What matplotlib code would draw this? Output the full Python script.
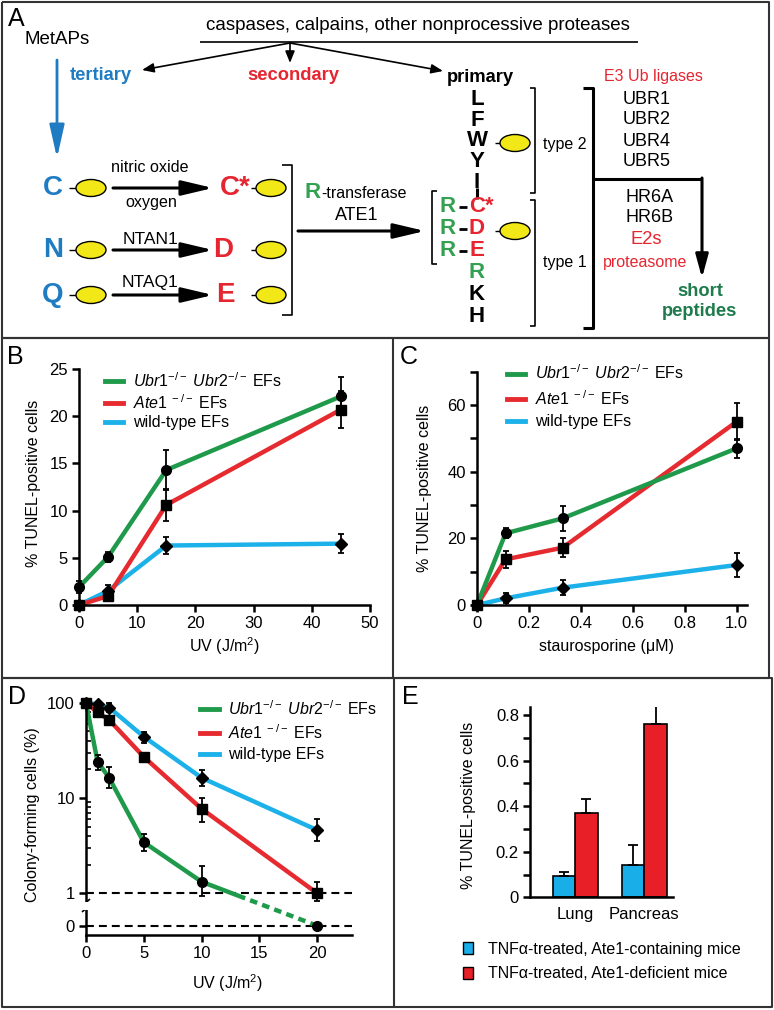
import numpy as np
import matplotlib
matplotlib.use('Agg')
import matplotlib.pyplot as plt
from matplotlib.lines import Line2D
from matplotlib.patches import Ellipse, Rectangle, Patch
from matplotlib.ticker import NullFormatter

plt.rcParams['font.family'] = ['Liberation Sans', 'DejaVu Sans']
plt.rcParams['mathtext.fontset'] = 'custom'
plt.rcParams['mathtext.rm'] = 'Liberation Sans'
plt.rcParams['mathtext.it'] = 'Liberation Sans:italic'
plt.rcParams['mathtext.bf'] = 'Liberation Sans:bold'

W, H = 774, 1010

GREEN = '#1f9a4b'
RED = '#e62b30'
BLUE = '#1db1ea'
BAR_BLUE = '#1aaee8'
BAR_RED = '#e91f27'
A_BLUE = '#1f7cc2'
A_RED = '#e52530'
A_GREEN = '#33a052'
DK_GREEN = '#1e7b4c'
YELLOW = '#f3e817'

lab_ubr = r'$\mathit{Ubr1}^{-/-}$ $\mathit{Ubr2}^{-/-}$ EFs'
lab_ate = r'$\mathit{Ate1}^{\ -/-}$ EFs'
lab_wt = 'wild-type EFs'

# panel B: UV dose vs TUNEL
uv_b = [0, 5, 15, 45]
ubr_b = [1.9, 5.1, 14.3, 22.1]
ubr_b_err = [0.6, 0.5, 2.1, 2.0]
ate_b = [0, 0.95, 10.6, 20.7]
ate_b_err = [0.15, 0.3, 1.7, 2.0]
wt_b = [0, 1.5, 6.3, 6.5]
wt_b_err = [0.1, 0.6, 0.9, 1.0]

# panel C: staurosporine vs TUNEL
sts_c = [0, 0.11, 0.33, 1.0]
ubr_c = [0, 21.5, 26, 47]
ubr_c_err = [0.5, 1.5, 3.7, 2.8]
ate_c = [0, 13.7, 17.2, 55]
ate_c_err = [0.5, 2.5, 2.8, 5.5]
wt_c = [0, 2, 5.2, 12]
wt_c_err = [0.3, 1.5, 2.2, 3.5]

# panel D: colony forming
uv_d = [0, 1, 2, 5, 10, 20]
ubr_d = [100, 24, 16.3, 3.43, 1.32, 0]
ubr_d_lo = [0, 4.5, 3.6, 0.63, 0.4, 0]
ubr_d_hi = [0, 4, 4.7, 0.77, 0.63, 0]
ate_d = [100, 79, 66, 27, 7.7, 1.0]
ate_d_lo = [0, 0, 0, 3, 2.1, 0.23]
ate_d_hi = [0, 0, 0, 3, 2.2, 0.32]
wt_d = [100, 96, 89, 44, 16.3, 4.6]
wt_d_lo = [0, 0, 10, 6, 2.8, 1.1]
wt_d_hi = [0, 0, 11, 5, 3.4, 1.4]

# panel E: bars
tissues = ['Lung', 'Pancreas']
e_wt = [0.092, 0.142]
e_wt_err = [0.02, 0.088]
e_ko = [0.369, 0.759]
e_ko_err = [0.062, 0.095]

fig = plt.figure(figsize=(W / 100, H / 100), dpi=100)


def axes_px(x0, x1, ytop, ybot):
    return fig.add_axes([x0 / W, 1 - ybot / H, (x1 - x0) / W, (ybot - ytop) / H])


def style(ax):
    for s in ['top', 'right']:
        ax.spines[s].set_visible(False)
    for s in ['left', 'bottom']:
        ax.spines[s].set_linewidth(1.8)
    ax.tick_params(direction='out', length=5, width=1.8, labelsize=12, pad=3)
    ax.patch.set_alpha(0)


def series(ax, x, y, err, color, marker, ms):
    ax.plot(x, y, color=color, lw=3.2, clip_on=False, zorder=2)
    eb = ax.errorbar(x, y, yerr=err, fmt=marker, color='k', ms=ms, capsize=2.2,
                     elinewidth=1.3, capthick=1.3, zorder=3)
    for art in eb.get_children():
        art.set_clip_on(False)


def leg(ax, x, y, spacing):
    hs = [Line2D([], [], color=c, lw=3.5) for c in (GREEN, RED, BLUE)]
    ax.legend(hs, [lab_ubr, lab_ate, lab_wt], loc='upper left', bbox_to_anchor=(x, y),
              frameon=False, fontsize=11.5, handlelength=1.15, handletextpad=0.6,
              labelspacing=spacing, borderpad=0, borderaxespad=0)


# ---------- B ----------
axB = axes_px(79, 370, 369, 605)
style(axB)
series(axB, uv_b, wt_b, wt_b_err, BLUE, 'D', 6)
series(axB, uv_b, ate_b, ate_b_err, RED, 's', 6.5)
series(axB, uv_b, ubr_b, ubr_b_err, GREEN, 'o', 7)
axB.set_xlim(0, 50)
axB.set_ylim(0, 25)
axB.set_xticks(range(0, 51, 10))
axB.set_yticks(range(0, 26, 5))
axB.set_xlabel('UV (J/m$^2$)', fontsize=11.5, va='center')
axB.xaxis.set_label_coords(0.5, -0.174)
axB.set_ylabel('% TUNEL-positive cells', fontsize=11.5, va='center')
axB.yaxis.set_label_coords(-0.158, 0.517)
leg(axB, 0.089, 0.99, 0.2)

# ---------- C ----------
axC = axes_px(477, 747, 371.7, 605)
style(axC)
series(axC, sts_c, wt_c, wt_c_err, BLUE, 'D', 6)
series(axC, sts_c, ate_c, ate_c_err, RED, 's', 6.5)
series(axC, sts_c, ubr_c, ubr_c_err, GREEN, 'o', 7)
axC.set_xlim(0, 1.04)
axC.set_ylim(0, 70)
axC.set_xticks([0, 0.2, 0.4, 0.6, 0.8, 1.0])
axC.set_xticklabels(['0', '0.2', '0.4', '0.6', '0.8', '1.0'])
axC.set_yticks(range(0, 71, 10))
axC.set_yticklabels(['0', '', '20', '', '40', '', '60', ''])
axC.set_xlabel('staurosporine (\u03bcM)', fontsize=11.5, va='center')
axC.xaxis.set_label_coords(0.481, -0.176)
axC.set_ylabel('% TUNEL-positive cells', fontsize=11.5, va='center')
axC.yaxis.set_label_coords(-0.196, 0.5)
leg(axC, 0.111, 1.035, 0.42)

# ---------- D ----------
K = 0.341


def fwd(y):
    y = np.asarray(y, dtype=float)
    return np.where(y >= 1, np.log10(np.maximum(y, 1)), (y - 1) * K)


def inv(f):
    f = np.asarray(f, dtype=float)
    return np.where(f >= 0, 10 ** f, 1 + f / K)


axD = axes_px(86, 351.7, 702.7, 935)
style(axD)
axD.set_yscale('function', functions=(fwd, inv))
axD.set_xlim(0, 23)
axD.set_ylim(-0.287, 100)
axD.axhline(1, color='k', lw=1.5, ls=(0, (3.8, 2.4)), zorder=1.5)
axD.axhline(0, color='k', lw=1.5, ls=(0, (3.8, 2.4)), zorder=1.5)


def dseries(x, y, lo, hi, color, marker, ms):
    eb = axD.errorbar(x, y, yerr=[lo, hi], fmt=marker, color='k', ms=ms, capsize=2.2,
                      elinewidth=1.3, capthick=1.3, zorder=3)
    for art in eb.get_children():
        art.set_clip_on(False)


axD.plot(uv_d, wt_d, color=BLUE, lw=3.2, clip_on=False, zorder=2)
axD.plot(uv_d, ate_d, color=RED, lw=3.2, clip_on=False, zorder=2)
axD.plot(uv_d[:5], ubr_d[:5], color=GREEN, lw=3.2, clip_on=False, zorder=2)
axD.plot(uv_d[4:], ubr_d[4:], color=GREEN, lw=3.2, clip_on=False, zorder=2,
         ls=(0, (10.5, 1.2, 1.7, 1.2, 1.7, 1.2, 1.7, 1.2, 1.7, 1.2, 1.7, 1.2,
                 1.7, 1.2, 1.7, 1.2, 1.7, 1.2, 1.7, 40)))
dseries(uv_d, wt_d, wt_d_lo, wt_d_hi, BLUE, 'D', 6)
dseries(uv_d, ate_d, ate_d_lo, ate_d_hi, RED, 's', 6.5)
dseries(uv_d, ubr_d, ubr_d_lo, ubr_d_hi, GREEN, 'o', 7)
axD.set_xticks([0, 5, 10, 15, 20])
axD.set_yticks([0, 1, 10, 100])
axD.set_yticklabels(['0', '1', '10', '100'])
axD.set_yticks([2, 3, 4, 5, 6, 7, 8, 9, 20, 30, 40, 50, 60, 70, 80, 90], minor=True)
axD.yaxis.set_minor_formatter(NullFormatter())
axD.tick_params(axis='y', which='minor', direction='in', length=3.5, width=1.2)
axD.set_xlabel('UV (J/m$^2$)', fontsize=11.5, va='center')
axD.xaxis.set_label_coords(0.531, -0.207)
axD.set_ylabel('Colony-forming cells (%)', fontsize=11.5, va='center')
axD.yaxis.set_label_coords(-0.2, 0.517)
leg(axD, 0.43, 1.015, 0.33)

# ---------- E ----------
axE = axes_px(530, 673, 706.7, 897.3)
style(axE)
xe = np.arange(len(tissues))
bw = 0.325
axE.bar(xe - bw / 2, e_wt, bw, color=BAR_BLUE, edgecolor='k', lw=1.2,
        yerr=[[0] * len(e_wt), e_wt_err], capsize=3.5, error_kw=dict(lw=1.3, capthick=1.3))
axE.bar(xe + bw / 2, e_ko, bw, color=BAR_RED, edgecolor='k', lw=1.2,
        yerr=[[0] * len(e_ko), e_ko_err], capsize=3.5, error_kw=dict(lw=1.3, capthick=1.3))
axE.set_xlim(-0.65, 1.414)
axE.set_ylim(0, 0.836)
axE.set_yticks(np.arange(0, 0.81, 0.1))
axE.set_yticklabels(['0', '', '0.2', '', '0.4', '', '0.6', '', '0.8'])
axE.set_xticks(xe)
axE.set_xticklabels(tissues)
axE.tick_params(axis='x', length=0, pad=7)
axE.set_ylabel('% TUNEL-positive cells', fontsize=11.5, va='center')
axE.yaxis.set_label_coords(-0.43, 0.484)
eh = [Patch(facecolor=BAR_BLUE, edgecolor='k', lw=1.0), Patch(facecolor=BAR_RED, edgecolor='k', lw=1.0)]
axE.legend(eh, ['TNF\u03b1-treated, Ate1-containing mice', 'TNF\u03b1-treated, Ate1-deficient mice'],
           loc='upper left', bbox_to_anchor=(-0.47, -0.234), frameon=False, fontsize=11.5,
           handlelength=0.65, handleheight=0.8, handletextpad=0.95, labelspacing=0.6,
           borderpad=0, borderaxespad=0)

# ---------- overlay: frames, panel A diagram ----------
ov = fig.add_axes([0, 0, 1, 1], zorder=10)
ov.set_xlim(0, W)
ov.set_ylim(H, 0)
ov.axis('off')


def T(x, y, s, size=13.5, color='k', weight='normal', ha='center', va='center', **kw):
    ov.text(x, y, s, fontsize=size, color=color, fontweight=weight, ha=ha, va=va, **kw)


def L(xs, ys, lw=1.4, color='k'):
    ov.plot(xs, ys, color=color, lw=lw, solid_capstyle='butt')


def arrow(x0, y0, x1, y1, lw=1.2, color='k', hl=0.7, hw=0.28):
    ov.annotate('', xy=(x1, y1), xytext=(x0, y0),
                arrowprops=dict(arrowstyle='-|>,head_length=%g,head_width=%g' % (hl, hw),
                                color=color, lw=lw, shrinkA=0, shrinkB=0, mutation_scale=10))


def blob(x, y):
    ov.add_patch(Ellipse((x, y), 30, 17, facecolor=YELLOW, edgecolor='k', lw=1.0, zorder=5))


# frames
FR = '#333333'
L([2, 769, 769, 2, 2], [2, 2, 338, 338, 2], lw=1.5, color=FR)
L([2, 769, 769, 2, 2], [338, 338, 678, 678, 338], lw=1.5, color=FR)
L([393, 393], [338, 678], lw=1.5, color=FR)
L([2, 772, 772, 2, 2], [678, 678, 1007, 1007, 678], lw=1.5, color=FR)
L([394, 394], [678, 1007], lw=1.5, color=FR)

# panel letters
T(8, 19, 'A', size=18, ha='left')
T(7, 357, 'B', size=18, ha='left')
T(400, 357, 'C', size=18, ha='left')
T(8, 697, 'D', size=18, ha='left')
T(402, 697, 'E', size=18, ha='left')

# D axis break
ov.add_patch(Rectangle((80, 902), 12, 8, facecolor='white', edgecolor='none', zorder=6))
L([82, 90], [906, 899], lw=1.2)
L([82, 90], [912, 905], lw=1.2)

# top of A
T(25, 40, 'MetAPs', ha='left')
T(418, 26, 'caspases, calpains, other nonprocessive proteases')
L([200, 638], [42, 42], lw=1.2)
arrow(290, 43, 142, 70)
arrow(290, 43, 290, 63)
arrow(290, 43, 443, 71)
T(101, 75, 'tertiary', size=13.2, color=A_BLUE, weight='bold')
T(293, 75, 'secondary', size=13.2, color=A_RED, weight='bold')
T(480, 77, 'primary', size=13.2, weight='bold')
arrow(57, 60, 57, 158, lw=2.0, color=A_BLUE, hl=2.0, hw=0.45)

# tertiary -> secondary
rows = [188, 250, 295]
for y, s in zip(rows, ['C', 'N', 'Q']):
    T(53, y, s, size=20, color=A_BLUE, weight='bold')
    L([69, 76], [y, y], lw=1.0)
    blob(91, y)
    arrow(113, y, 213, y, lw=2.2, hl=1.9, hw=0.45)
T(150, 168, 'nitric oxide', size=11.6)
T(151, 202, 'oxygen', size=11.6)
T(150, 239, 'NTAN1', size=12.5)
T(150, 282, 'NTAQ1', size=12.5)
T(220, 188, 'C*', size=20, color=A_RED, weight='bold', ha='left')
T(223, 250, 'D', size=20, color=A_RED, weight='bold')
T(225, 295, 'E', size=20, color=A_RED, weight='bold')
for y in rows:
    L([251, 256], [y, y], lw=1.0)
    blob(271, y)
L([282, 292, 292, 282], [165, 165, 315, 315], lw=1.2)

# R-transferase
T(305, 198, 'R', size=16, color=A_GREEN, weight='bold', ha='left', va='baseline')
T(321, 198, '-transferase', size=11.5, ha='left', va='baseline')
T(357, 216, 'ATE1', size=13)
arrow(298, 231, 425, 231, lw=2.2, hl=1.9, hw=0.45)

# column of N-terminal residues (type 2 stacked as one text)
ov.text(477, 141, 'L\nF\nW\nY\nI', fontsize=16, fontweight='bold', ha='center', va='center',
        linespacing=0.99, multialignment='center')
T(469, 207, 'C*', size=16, color=A_RED, weight='bold', ha='left')
col = [('D', 229, A_RED), ('E', 251, A_RED), ('R', 273, A_GREEN),
       ('K', 295, 'k'), ('H', 317, 'k')]
for s, y, c in col:
    T(477, y, s, size=16, color=c, weight='bold')
L([477, 477], [188, 199], lw=2.2)
for y in [207, 229, 251]:
    T(448, y, 'R', size=16, color=A_GREEN, weight='bold')
    L([459, 467], [y, y], lw=2.0)
L([437, 432, 432, 437], [191, 191, 264, 264], lw=1.2)
L([495, 500], [143, 143], lw=1.0)
blob(515, 143)
L([495, 500], [231, 231], lw=1.0)
blob(515, 231)

# type brackets
L([530, 535, 535, 530], [88, 88, 193, 193], lw=1.2)
L([530, 535, 535, 530], [200, 200, 326, 326], lw=1.2)
T(543, 145, 'type 2', size=11.5, ha='left')
T(543, 262, 'type 1', size=11.5, ha='left')

# big bracket and pathway arrow
L([583, 593, 593, 583], [88, 88, 328, 328], lw=2.2)
L([592, 702], [179, 179], lw=2.2)
arrow(702, 178, 702, 278, lw=2.2, hl=1.4, hw=0.38)
T(653, 77, 'E3 Ub ligases', size=11.5, color=A_RED)
for s, y in zip(['UBR1', 'UBR2', 'UBR4', 'UBR5'], [100, 120, 142, 162]):
    T(647, y, s, size=13)
T(650, 197, 'HR6A', size=13)
T(650, 218, 'HR6B', size=13)
T(646, 240, 'E2s', size=13.2, color=A_RED)
T(645, 262, 'proteasome', size=11.5, color=A_RED)
T(700, 292, 'short', size=13.2, color=DK_GREEN, weight='bold')
T(700, 312, 'peptides', size=13.2, color=DK_GREEN, weight='bold')

fig.savefig('out.png', dpi=100)
